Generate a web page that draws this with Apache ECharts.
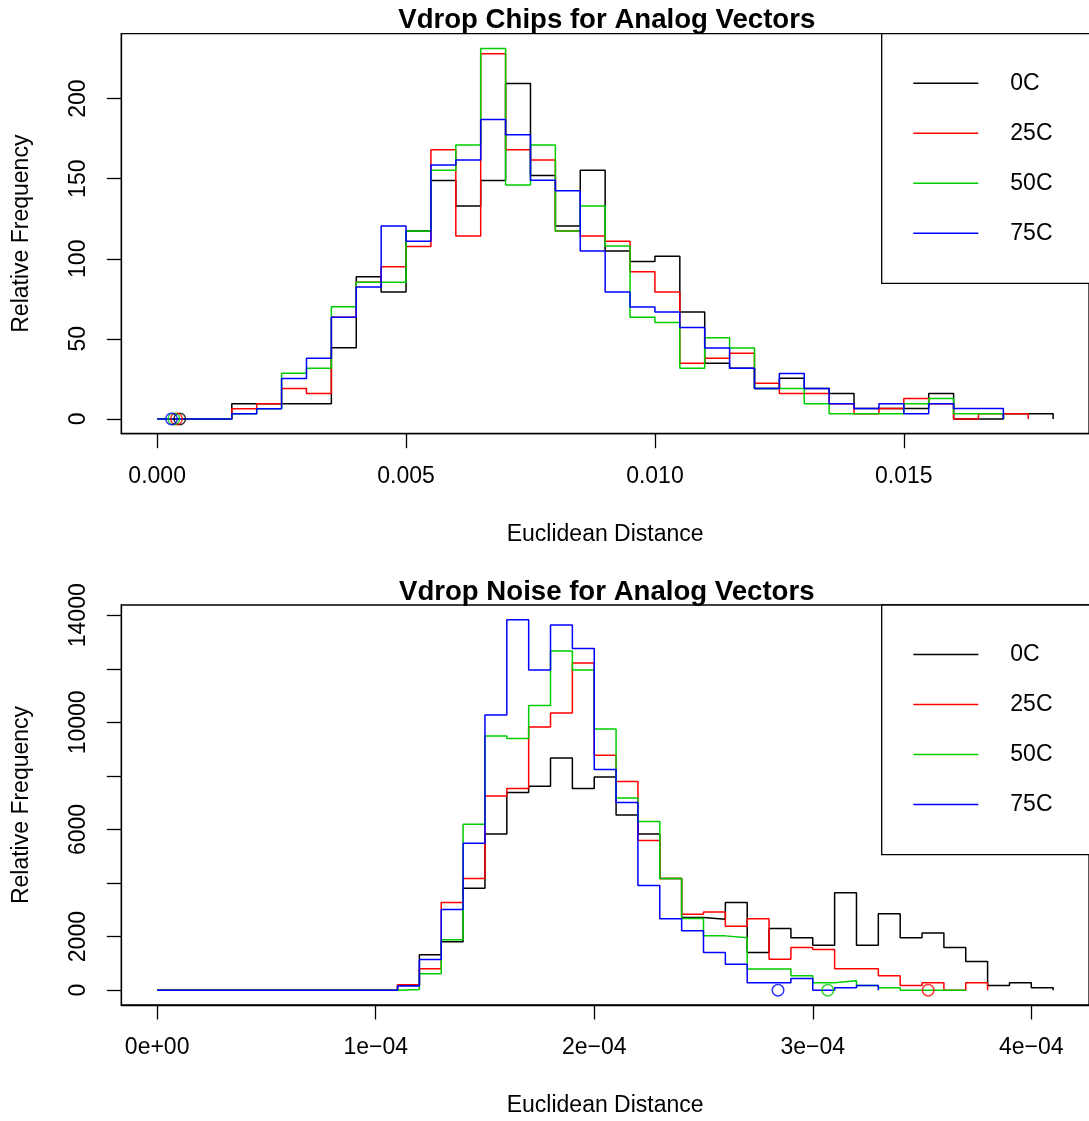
<!DOCTYPE html>
<html>
<head>
<meta charset="utf-8">
<script src="https://cdn.jsdelivr.net/npm/echarts@6/dist/echarts.min.js"></script>
<style>
  html, body { margin: 0; padding: 0; background: #fff; }
  #chart { width: 1089px; height: 1121px; }
</style>
</head>
<body>
<div id="chart"></div>
<script>
// ---- Chip-to-chip distances: bin left edges and relative frequencies ----
const chipsEdges = [0, 0.0015, 0.002, 0.0025, 0.003, 0.0035, 0.004, 0.0045, 0.005, 0.0055,
  0.006, 0.0065, 0.007, 0.0075, 0.008, 0.0085, 0.009, 0.0095, 0.010, 0.0105, 0.011, 0.0115,
  0.012, 0.0125, 0.013, 0.0135, 0.014, 0.0145, 0.015, 0.0155, 0.016, 0.0165, 0.017, 0.0175, 0.018];
const chips0C  = [0, 9.5, 9.5, 9.5, 9.5, 44.4, 88.7, 79.2, 117.3, 148.8, 133, 148.8, 209.4, 152, 120.4,
  155.2, 104.8, 98.3, 101.5, 66.7, 34.8, 31.7, 19, 25.4, 19, 15.8, 6.5, 6.5, 6.5, 15.8, 0, 0, 3.2, 3.2, 0];
const chips25C = [0, 6.3, 9.5, 19, 15.8, 63.5, 85.4, 95, 107.7, 168, 114.2, 228.1, 168, 161.7, 117.3,
  114.2, 111, 91.9, 79.2, 34.8, 37.9, 41, 22.2, 15.8, 15.8, 9.5, 3.2, 6.5, 12.7, 9.5, 0, 3.2, 3.2, 0];
const chips50C = [0, 3.2, 6.3, 28.5, 31.7, 70, 85.4, 85.4, 117.3, 155.2, 171, 231.3, 146, 171, 117.3,
  133, 107.9, 63.5, 60.2, 31.7, 50.6, 44.2, 19, 19, 9.5, 3.2, 3.2, 3.2, 9.5, 12.7, 3.2, 3.2, 0];
const chips75C = [0, 3.2, 6.3, 25.2, 37.9, 63.5, 82.3, 120.4, 111, 158.5, 161.7, 187, 177.5, 149, 142.5,
  104.8, 79.2, 69.8, 66.7, 57, 44.2, 31.7, 19, 28.3, 19, 9.5, 6.5, 9.5, 3.2, 9.5, 6.5, 6.5, 0];
// marker positions on the zero line (0C, 25C, 50C, 75C)
const chipsMarks = [0.000454, 0.000388, 0.000334, 0.000288];

// ---- Noise distances ----
const noiseEdges = [0, 0.00011, 0.00012, 0.00013, 0.00014, 0.00015, 0.00016, 0.00017, 0.00018,
  0.00019, 0.00020, 0.00021, 0.00022, 0.00023, 0.00024, 0.00025, 0.00026, 0.00027, 0.00028,
  0.00029, 0.00030, 0.00031, 0.00032, 0.00033, 0.00034, 0.00035, 0.00036, 0.00037, 0.00038,
  0.00039, 0.00040, 0.00041];
const noise0C  = [0, 187, 1319, 1804, 3808, 5836, 7379, 7616, 8673, 7529, 7964, 6545, 5836, 4169,
  2713, 2650, 3273, 1410, 2302, 1954, 1680, 3634, 1680, 2850, 1954, 2140, 1593, 1070, 174, 274, 87, 0];
const noise25C = [0, 200, 796, 3273, 4169, 7255, 7529, 9831, 10353, 12220, 8773, 7790, 5587, 4169,
  2837, 2924, 2389, 2663, 1157, 1593, 1518, 796, 796, 535, 174, 274, 0, 274, 0];
const noise50C = [0, 25, 610, 1879, 6197, 9495, 9395, 10627, 12668, 11959, 9756, 7180, 6297, 4169,
  2675, 2028, 1954, 790, 790, 535, 274, 348, 174, 87, 0, 0, 0, 0];
const noise75C = [0, 160, 1145, 3011, 5488, 10279, 13830, 11959, 13639, 12755, 8238, 7006, 3907, 2663,
  2215, 1410, 971, 274, 274, 436, 0, 87, 174, 0];
const noiseMarks = [null, 0.0003528, 0.0003069, 0.0002841];

// ---- Labels and ticks ----
const temps = ['0C', '25C', '50C', '75C'];
const colors = ['#000000', '#FF0000', '#00CD00', '#0000FF'];
const titles = ['Vdrop Chips for Analog Vectors', 'Vdrop Noise for Analog Vectors'];
const xName = 'Euclidean Distance';
const yName = 'Relative Frequency';
const chipsXTicks = [0, 0.005, 0.010, 0.015];
const chipsYTicks = [0, 50, 100, 150, 200];
const noiseXTicks = [0, 0.0001, 0.0002, 0.0003, 0.0004];
const noiseYTicks = [0, 2000, 4000, 6000, 8000, 10000, 12000, 14000];
const noiseYLabels = [0, 2000, 6000, 10000, 14000];

const FONT = '"Liberation Sans", Arial, Helvetica, sans-serif';
const panelLeft = 121.3, panelWidth = 970.9, panelHeight = 400;
const panelTops = [33.7, 605];
const INK = '#000';

function stepData(edges, counts) {
  return counts.map((c, i) => [edges[i], c]);
}
function maxOf(list) { return Math.max.apply(null, list.flat()); }
// 4% padding on each side of the data range
function padRange(lo, hi) { const p = (hi - lo) * 0.04; return [lo - p, hi + p]; }

function sciLabel(v) {
  const parts = v.toExponential(0).split('e');
  const e = parseInt(parts[1], 10);
  const sign = e < 0 ? '\u2212' : '+';
  return parts[0] + 'e' + sign + String(Math.abs(e)).padStart(2, '0');
}

const panels = [
  { edges: chipsEdges, counts: [chips0C, chips25C, chips50C, chips75C], marks: chipsMarks,
    xTicks: chipsXTicks, xFmt: v => v.toFixed(3), yTicks: chipsYTicks, yLabels: chipsYTicks },
  { edges: noiseEdges, counts: [noise0C, noise25C, noise50C, noise75C], marks: noiseMarks,
    xTicks: noiseXTicks, xFmt: sciLabel, yTicks: noiseYTicks, yLabels: noiseYLabels }
];

const grid = [], xAxis = [], yAxis = [], series = [], title = [], legend = [];

panels.forEach((p, k) => {
  const top = panelTops[k];
  grid.push({ left: panelLeft, top: top, width: panelWidth, height: panelHeight,
    show: true, borderColor: INK, borderWidth: 1.3, backgroundColor: 'transparent' });

  const xr = padRange(0, p.edges[p.edges.length - 1]);
  const yr = padRange(0, maxOf(p.counts));

  xAxis.push({
    gridIndex: k, type: 'value', min: xr[0], max: xr[1],
    axisLine: { show: true, onZero: false, lineStyle: { color: INK, width: 1.3 } },
    axisTick: { show: true, customValues: p.xTicks, length: 14.5, lineStyle: { color: INK, width: 1.3 } },
    axisLabel: { customValues: p.xTicks, formatter: p.xFmt, margin: 31, color: INK,
      fontSize: 23, fontFamily: FONT },
    splitLine: { show: false },
    name: xName, nameLocation: 'middle', nameGap: 89,
    nameTextStyle: { color: INK, fontSize: 23, fontFamily: FONT }
  });
  yAxis.push({
    gridIndex: k, type: 'value', min: yr[0], max: yr[1],
    axisLine: { show: true, onZero: false, lineStyle: { color: INK, width: 1.3 } },
    axisTick: { show: true, customValues: p.yTicks, length: 14.5, lineStyle: { color: INK, width: 1.3 } },
    axisLabel: { customValues: p.yLabels, formatter: v => String(v), rotate: 90, margin: 31,
      color: INK, fontSize: 23, fontFamily: FONT },
    splitLine: { show: false },
    name: yName, nameLocation: 'middle', nameGap: 88,
    nameTextStyle: { color: INK, fontSize: 23, fontFamily: FONT }
  });

  p.counts.forEach((c, i) => {
    series.push({
      type: 'line', name: temps[i], xAxisIndex: k, yAxisIndex: k,
      data: stepData(p.edges, c), step: 'end', symbol: 'none', showSymbol: false,
      lineStyle: { color: colors[i], width: 1.5 }, itemStyle: { color: colors[i] },
      silent: true, z: 2 + i
    });
  });
  p.marks.forEach((m, i) => {
    if (m == null) return;
    series.push({
      type: 'scatter', name: temps[i], xAxisIndex: k, yAxisIndex: k,
      data: [[m, 0]], symbol: 'circle', symbolSize: 11.5,
      itemStyle: { color: 'transparent', borderColor: colors[i], borderWidth: 1.5 },
      silent: true, z: 10
    });
  });

  title.push({
    text: titles[k], left: panelLeft + panelWidth / 2, top: top - 27, textAlign: 'center', padding: 0,
    textStyle: { color: INK, fontSize: 27.6, fontWeight: 'bold', fontFamily: FONT }
  });

  legend.push({
    data: temps, orient: 'vertical', left: 881.7, top: top,
    padding: [37.6, 90, 38, 31.6],
    itemWidth: 65, itemHeight: 24, itemGap: 26,
    icon: 'path://M0,0H65V1.5H0Z',
    itemStyle: { borderWidth: 0 },
    borderColor: INK, borderWidth: 1.3, backgroundColor: '#fff', borderRadius: 0,
    selectedMode: false,
    textStyle: { color: INK, fontSize: 23, fontFamily: FONT, lineHeight: 24, padding: [0, 0, 0, 27] }
  });
});

const chart = echarts.init(document.getElementById('chart'), null, { renderer: 'canvas' });
chart.setOption({
  animation: false,
  backgroundColor: '#fff',
  title: title, legend: legend, grid: grid, xAxis: xAxis, yAxis: yAxis, series: series
});
</script>
</body>
</html>
